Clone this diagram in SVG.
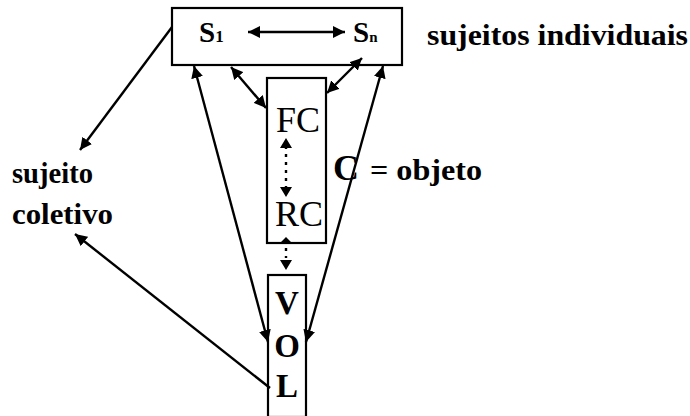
<svg xmlns="http://www.w3.org/2000/svg" width="690" height="416" viewBox="0 0 690 416">
<defs>
<style>
.box{fill:#fff;stroke:#000;stroke-width:2.2}
.ln{fill:none;stroke:#000;stroke-width:2.4}
.dot{fill:none;stroke:#000;stroke-width:2.4;stroke-dasharray:3 5}
.b{font-family:"Liberation Serif","Times New Roman",serif;font-weight:bold;fill:#000}
.r{font-family:"Liberation Serif","Times New Roman",serif;fill:#000}
</style>
<marker id="ah" viewBox="0 0 10 10" refX="10" refY="5" markerWidth="5" markerHeight="5" orient="auto-start-reverse" markerUnits="strokeWidth">
<path d="M0,0 L10,5 L0,10 z" fill="#000"/>
</marker>
</defs>
<g id="node-top">
<rect class="box" x="172" y="8" width="230" height="57"/>
<text class="b" x="199" y="42" font-size="29">S<tspan font-size="17">1</tspan></text>
<text class="b" x="353" y="42" font-size="29">S<tspan font-size="15">n</tspan></text>
</g>
<g id="node-fcrc">
<rect class="box" x="267" y="78" width="59" height="165"/>
<text class="r" x="276" y="132" font-size="36">FC</text>
<text class="r" x="275" y="226" font-size="36">RC</text>
</g>
<g id="node-vol">
<rect class="box" x="268" y="275" width="38" height="142"/>
<text class="b" x="287" y="314" font-size="33" text-anchor="middle">V</text>
<text class="b" x="287" y="357" font-size="33" text-anchor="middle">O</text>
<text class="b" x="287" y="397" font-size="33" text-anchor="middle">L</text>
</g>
<g id="labels">
<text class="b" x="427" y="45" font-size="30" textLength="261" lengthAdjust="spacingAndGlyphs">sujeitos individuais</text>
<text class="b" x="12" y="183" font-size="29" textLength="81" lengthAdjust="spacingAndGlyphs">sujeito</text>
<text class="b" x="12" y="224" font-size="29" textLength="101" lengthAdjust="spacingAndGlyphs">coletivo</text>
<text class="b" x="333" y="180" font-size="36">C</text>
<text class="b" x="370" y="180" font-size="30" textLength="112" lengthAdjust="spacingAndGlyphs">= objeto</text>
</g>
<g id="connectors">
<line class="ln" x1="248" y1="32" x2="345" y2="32" marker-start="url(#ah)" marker-end="url(#ah)"/>
<line class="ln" x1="172" y1="27" x2="80" y2="150" marker-end="url(#ah)"/>
<line class="ln" x1="270" y1="388" x2="75" y2="234" marker-end="url(#ah)"/>
<line class="ln" x1="194" y1="66" x2="268" y2="342" marker-start="url(#ah)" marker-end="url(#ah)"/>
<line class="ln" x1="231" y1="67" x2="266" y2="108" marker-start="url(#ah)" marker-end="url(#ah)"/>
<line class="ln" x1="362" y1="58" x2="327" y2="93" marker-start="url(#ah)" marker-end="url(#ah)"/>
<line class="ln" x1="383" y1="66" x2="306" y2="342" marker-start="url(#ah)" marker-end="url(#ah)"/>
<line class="dot" x1="286" y1="146" x2="286" y2="190"/>
<path d="M286,138 L280,148 L292,148 z M286,197 L280,187 L292,187 z" fill="#000"/>
<line class="dot" x1="286" y1="248" x2="286" y2="258"/>
<path d="M286,237 L280,243 L292,243 z M286,270 L280,260 L292,260 z" fill="#000"/>
</g>
</svg>
